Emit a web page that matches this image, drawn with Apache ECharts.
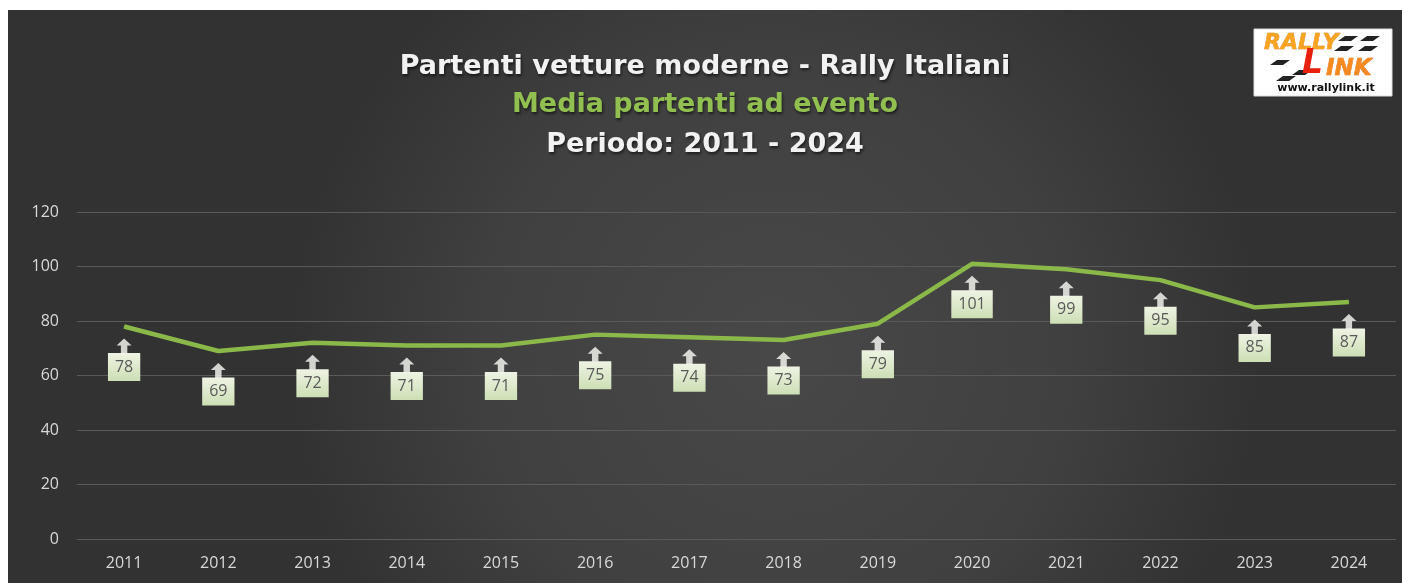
<!DOCTYPE html>
<html>
<head>
<meta charset="utf-8">
<script src="https://cdn.jsdelivr.net/npm/echarts@6/dist/echarts.min.js"></script>
<style>
    html, body { margin: 0; padding: 0; background: #fff; }
    #chart { position: absolute; left: 8px; top: 10px; width: 1394px; height: 573px; }
</style>
</head>
<body>
<div id="chart"></div>
<script>
    var anni = ['2011', '2012', '2013', '2014', '2015', '2016', '2017', '2018', '2019', '2020', '2021', '2022', '2023', '2024'];
    var mediaPartenti = [78, 69, 72, 71, 71, 75, 74, 73, 79, 101, 99, 95, 85, 87];
    var yTicks = [0, 20, 40, 60, 80, 100, 120];

    var chart = echarts.init(document.getElementById('chart'));

    //freccia sopra l'etichetta
    var arrowPath = 'path://M7,0 L14,7 L10,7 L10,15 L4,15 L4,7 L0,7 Z';

    var titleStyle = function(color) {
        return {
            color: color,
            fontFamily: 'DejaVu Sans',
            fontWeight: 'bold',
            fontSize: 27,
            lineHeight: 32,
            textShadowColor: 'rgba(0,0,0,0.6)',
            textShadowBlur: 3,
            textShadowOffsetX: 1,
            textShadowOffsetY: 2
        };
    };

    //strisce del logo
    var stripe = function(x, y) {
        return {
            type: 'polygon',
            z: 11,
            shape: { points: [[x + 7, y], [x + 20, y], [x + 13, y + 5], [x, y + 5]] },
            style: { fill: '#222' }
        };
    };

    var option = {
        animation: false,
        backgroundColor: new echarts.graphic.RadialGradient(0.55, 0.6, 0.85, [
            { offset: 0, color: '#484848' },
            { offset: 0.6, color: '#404040' },
            { offset: 1, color: '#323232' }
        ]),
        title: [{
            text: 'Partenti vetture moderne - Rally Italiani',
            left: 'center',
            top: 36,
            textStyle: titleStyle('#f2f2f2')
        }, {
            text: 'Media partenti ad evento',
            left: 'center',
            top: 74,
            textStyle: titleStyle('#92c050')
        }, {
            text: 'Periodo: ' + anni[0] + ' - ' + anni[anni.length - 1],
            left: 'center',
            top: 114,
            textStyle: titleStyle('#f2f2f2')
        }],
        grid: {
            left: 69,
            right: 6,
            top: 202,
            bottom: 44
        },
        xAxis: {
            type: 'category',
            data: anni,
            axisTick: { show: false },
            axisLine: { show: false },
            axisLabel: {
                color: '#d9d9d9',
                fontFamily: 'Open Sans',
                fontSize: 16,
                margin: 16
            }
        },
        yAxis: {
            type: 'value',
            min: yTicks[0],
            max: yTicks[yTicks.length - 1],
            interval: 20,
            axisLine: { show: false },
            axisTick: { show: false },
            axisLabel: {
                color: '#d9d9d9',
                fontFamily: 'Open Sans',
                fontSize: 16,
                margin: 18
            },
            splitLine: {
                lineStyle: { color: '#5a5a5a', width: 1 }
            }
        },
        series: [{
            name: 'Media partenti',
            type: 'line',
            data: mediaPartenti,
            symbol: 'circle',
            symbolSize: 1,
            itemStyle: { color: '#8ab94a' },
            lineStyle: { color: '#8ab94a', width: 4.5, join: 'round' },
            z: 2,
            label: {
                show: true,
                position: 'bottom',
                distance: 26,
                color: '#595959',
                fontFamily: 'Open Sans',
                fontSize: 16,
                lineHeight: 16,
                padding: [6, 7],
                backgroundColor: new echarts.graphic.LinearGradient(0, 0, 0, 1, [
                    { offset: 0, color: '#eef3e3' },
                    { offset: 1, color: '#cddfb5' }
                ])
            }
        }, {
            name: 'Frecce',
            type: 'scatter',
            data: mediaPartenti,
            symbol: arrowPath,
            symbolSize: [15, 15],
            symbolOffset: [0, 19.5],
            itemStyle: { color: '#fbfbf7' },
            z: 3,
            silent: true
        }],
        graphic: [{
            type: 'rect',
            z: 10,
            shape: { x: 1246, y: 19, width: 138, height: 67 },
            style: { fill: '#ffffff', stroke: '#dddddd', lineWidth: 1 }
        },
            stripe(1330, 26), stripe(1352, 26),
            stripe(1326, 36), stripe(1350, 36),
            stripe(1262, 50), stripe(1284, 60), stripe(1268, 66),
        {
            type: 'text',
            z: 12,
            style: {
                x: 1256, y: 22,
                text: 'RALLY',
                font: 'italic 900 22px "DejaVu Sans"',
                fill: '#f7a520',
                stroke: '#e07010',
                lineWidth: 0.5
            }
        }, {
            type: 'text',
            z: 12,
            style: {
                x: 1294, y: 38,
                text: 'L',
                font: 'italic 900 33px "DejaVu Sans"',
                fill: '#e8200c'
            }
        }, {
            type: 'text',
            z: 12,
            style: {
                x: 1318, y: 48,
                text: 'INK',
                font: 'italic 900 23px "DejaVu Sans"',
                fill: '#f58a20',
                stroke: '#e06010',
                lineWidth: 0.5
            }
        }, {
            type: 'text',
            z: 12,
            style: {
                x: 1318, y: 73,
                text: 'www.rallylink.it',
                align: 'center',
                font: 'bold 11px "DejaVu Sans"',
                fill: '#111'
            }
        }]
    };

    chart.setOption(option);

    window.addEventListener('resize', function() {
        chart.resize();
    });
</script>
</body>
</html>
